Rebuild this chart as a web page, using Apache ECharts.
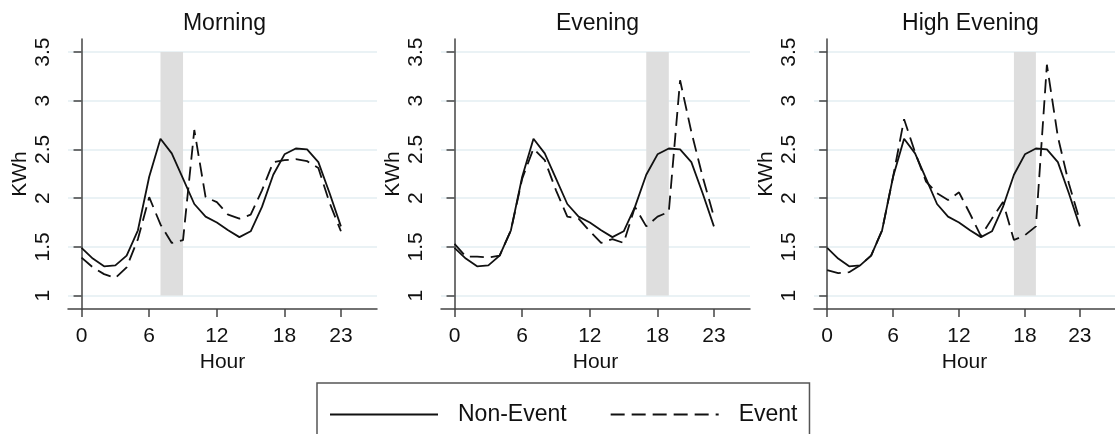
<!DOCTYPE html>
<html>
<head>
<meta charset="utf-8">
<script src="https://cdn.jsdelivr.net/npm/echarts@6/dist/echarts.min.js"></script>
<style>
html,body{margin:0;padding:0;background:#fff;}
#chart{width:1115px;height:434px;}
</style>
</head>
<body>
<div id="chart"></div>
<script>
// ---- data ----
const hours = [0,1,2,3,4,5,6,7,8,9,10,11,12,13,14,15,16,17,18,19,20,21,22,23];
const panelTitles = ['Morning', 'Evening', 'High Evening'];
const nonEvent = [1.49,1.38,1.30,1.31,1.41,1.67,2.22,2.61,2.46,2.20,1.94,1.81,1.75,1.67,1.60,1.66,1.91,2.24,2.45,2.51,2.50,2.37,2.05,1.71];
const morningEvent = [1.39,1.29,1.22,1.18,1.29,1.58,2.01,1.73,1.54,1.57,2.70,2.01,1.96,1.83,1.79,1.83,2.08,2.37,2.39,2.40,2.38,2.31,1.95,1.66];
const eveningEvent = [1.53,1.40,1.40,1.39,1.41,1.67,2.20,2.51,2.39,2.08,1.81,1.79,1.66,1.54,1.58,1.54,1.91,1.71,1.81,1.86,3.21,2.68,2.22,1.81];
const highEveningEvent = [1.26,1.23,1.24,1.31,1.41,1.67,2.22,2.81,2.47,2.17,2.05,1.98,2.06,1.84,1.61,1.79,1.96,1.57,1.62,1.71,3.37,2.63,2.15,1.77];
const eventWindows = [[7,9],[17,19],[17,19]];
const xTicks = [0,6,12,18,23];
const yTicks = [1,1.5,2,2.5,3,3.5];
const seriesNames = ['Non-Event', 'Event'];

const eventSets = [morningEvent, eveningEvent, highEveningEvent];
const FONT = 'Liberation Sans, Arial, sans-serif';
const gridLefts = [68, 441, 814];
const gridW = 309, gridTop = 39, gridH = 270;

const grids = [], xAxes = [], yAxes = [], titles = [], series = [];
for (let i = 0; i < 3; i++) {
  grids.push({left: gridLefts[i], top: gridTop, width: gridW, height: gridH});
  titles.push({
    text: panelTitles[i],
    left: gridLefts[i] + gridW / 2 - 3,
    top: 7,
    textAlign: 'center',
    textStyle: {fontFamily: FONT, fontSize: 23, fontWeight: 'normal', color: '#111'}
  });
  xAxes.push({
    type: 'value', gridIndex: i, min: -1.2, max: 26.2,
    name: 'Hour', nameLocation: 'middle', nameGap: 37,
    nameTextStyle: {fontFamily: FONT, fontSize: 21, color: '#111'},
    axisLine: {show: true, lineStyle: {color: '#444', width: 1.5}},
    axisTick: {show: true, length: 8, customValues: xTicks, lineStyle: {color: '#444', width: 1.5}},
    axisLabel: {customValues: xTicks, fontFamily: FONT, fontSize: 21, color: '#111', margin: 17},
    splitLine: {show: false}
  });
  yAxes.push({
    type: 'value', gridIndex: i, min: 0.862, max: 3.634,
    name: 'KWh', nameLocation: 'middle', nameGap: 37, nameRotate: 90,
    nameTextStyle: {fontFamily: FONT, fontSize: 21, color: '#111'},
    axisLine: {show: true, lineStyle: {color: '#444', width: 1.5}},
    axisTick: {show: true, length: 8, customValues: yTicks, lineStyle: {color: '#444', width: 1.5}},
    axisLabel: {customValues: yTicks, rotate: 90, fontFamily: FONT, fontSize: 21, color: '#111', margin: 14},
    splitLine: {show: true, lineStyle: {color: '#e3eef2', width: 1.5}}
  });
  series.push({
    name: seriesNames[0], type: 'line', xAxisIndex: i, yAxisIndex: i,
    data: hours.map((h, k) => [h, nonEvent[k]]),
    symbol: 'none', showSymbol: false, silent: true, z: 3,
    lineStyle: {color: '#111', width: 1.8, type: 'solid'},
    itemStyle: {color: '#111'},
    markArea: {
      silent: true,
      itemStyle: {color: '#dedede'},
      data: [[{coord: [eventWindows[i][0], yTicks[0]]}, {coord: [eventWindows[i][1], yTicks[yTicks.length - 1]]}]]
    }
  });
  series.push({
    name: seriesNames[1], type: 'line', xAxisIndex: i, yAxisIndex: i,
    data: hours.map((h, k) => [h, eventSets[i][k]]),
    symbol: 'none', showSymbol: false, silent: true, z: 3,
    lineStyle: {color: '#111', width: 1.8, type: [14, 7]},
    itemStyle: {color: '#111'}
  });
}

const chart = echarts.init(document.getElementById('chart'), null, {renderer: 'canvas'});
chart.setOption({
  backgroundColor: '#fff',
  animation: false,
  title: titles,
  grid: grids,
  xAxis: xAxes,
  yAxis: yAxes,
  legend: {
    data: seriesNames,
    left: 317, top: 383,
    orient: 'horizontal',
    itemWidth: 108, itemHeight: 18, itemGap: 43,
    padding: [20, 12, 20, 12],
    borderColor: '#555', borderWidth: 1.5,
    selectedMode: false,
    itemStyle: {opacity: 0, borderWidth: 0},
    textStyle: {fontFamily: FONT, fontSize: 23, color: '#111', padding: [0, 0, 0, 15]}
  },
  series: series
});
</script>
</body>
</html>
